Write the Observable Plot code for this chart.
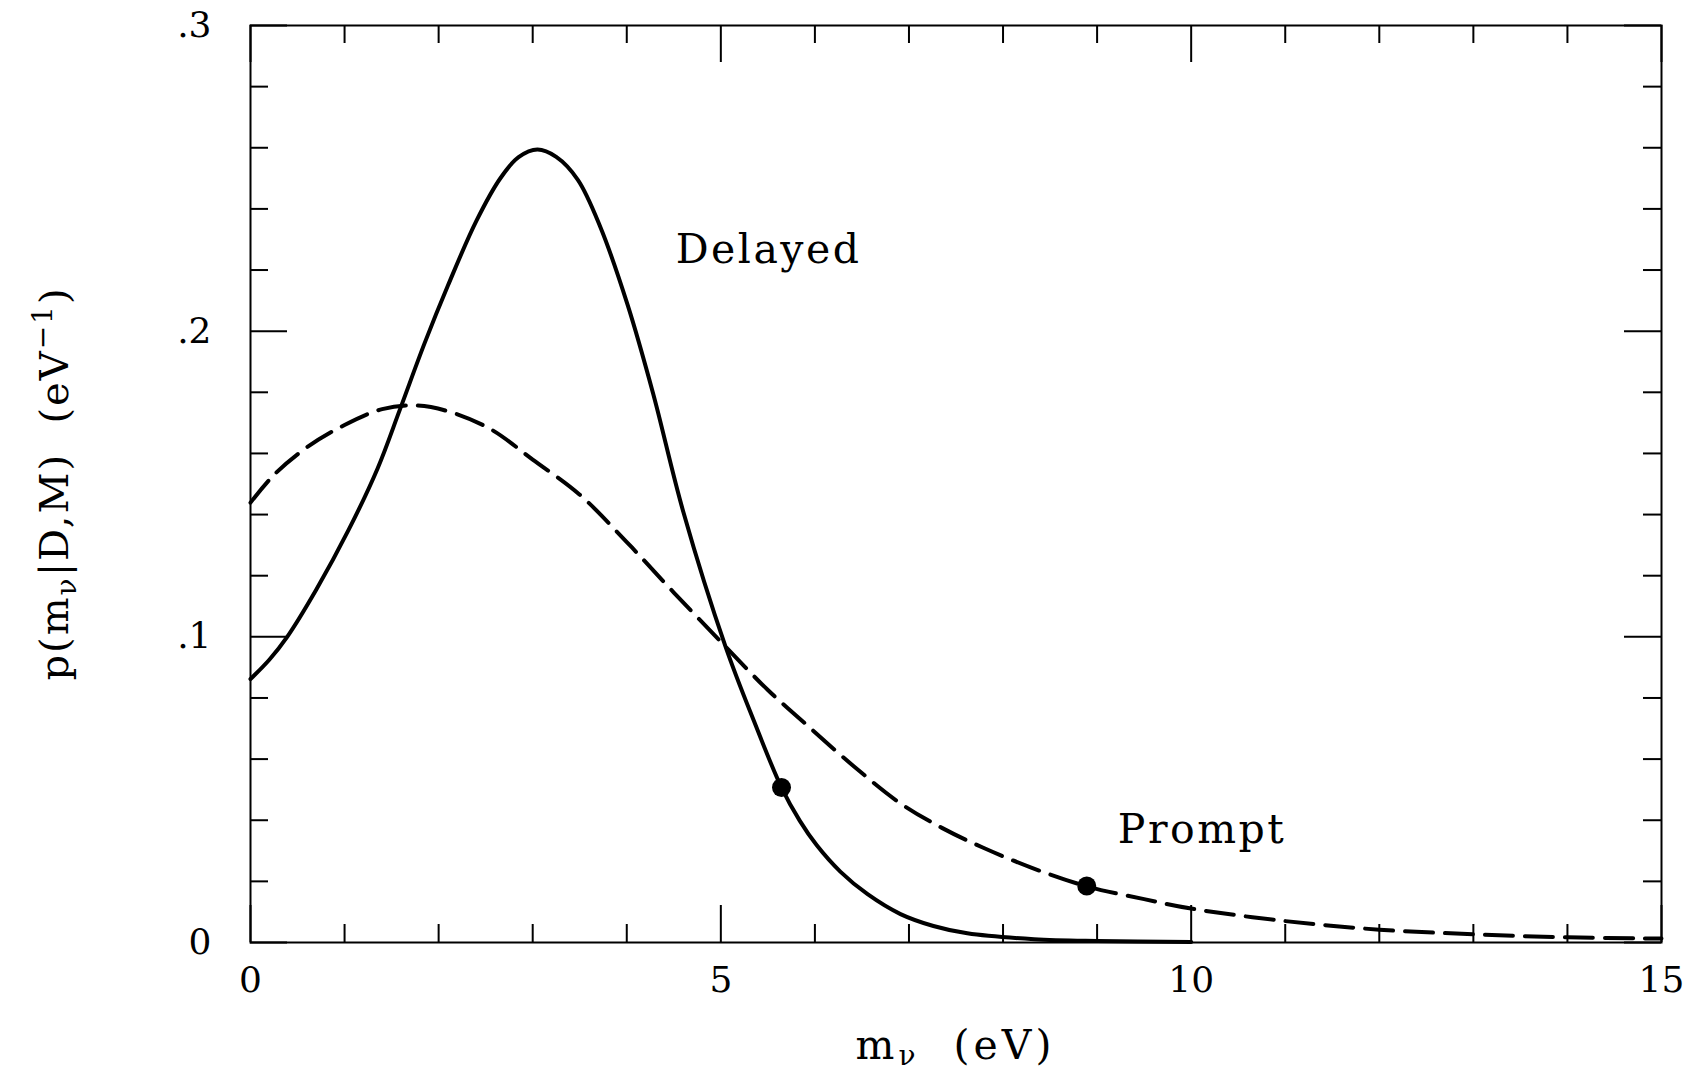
<!DOCTYPE html>
<html>
<head>
<meta charset="utf-8">
<script src="https://cdn.jsdelivr.net/npm/d3@7"></script>
<script src="https://cdn.jsdelivr.net/npm/@observablehq/plot@0.6"></script>
<style>
  body { margin: 0; background: #fff; }
  g[aria-label="text"] text { letter-spacing: 2.5px; }
</style>
</head>
<body>
<div id="chart"></div>
<script>
// ---- data ----
const delayedX = [0, 0.2, 0.39, 0.7, 1.04, 1.35, 1.59, 1.85, 2.1, 2.4, 2.66, 2.85, 3.05, 3.25, 3.48, 3.72, 4.01, 4.28, 4.6, 5.05, 5.35, 5.645, 5.84, 6.02, 6.27, 6.56, 6.91, 7.26, 7.62, 8.33, 9.0, 10.0];
const delayedY = [0.0862, 0.0925, 0.100, 0.1155, 0.1348, 0.155, 0.1745, 0.196, 0.215, 0.236, 0.2502, 0.2569, 0.2594, 0.2570, 0.2495, 0.2340, 0.2085, 0.1796, 0.141, 0.0968, 0.0726, 0.0507, 0.0398, 0.0318, 0.0232, 0.0158, 0.0093, 0.0054, 0.0030, 0.0011, 0.0005, 0.0002];

const promptX = [0, 0.25, 0.6, 1.0, 1.4, 1.75, 2.1, 2.55, 3.0, 3.5, 4.0, 4.5, 5.05, 5.5, 5.92, 6.4, 6.91, 7.35, 7.79, 8.3, 8.9, 9.5, 10.0, 11.0, 12.0, 13.0, 14.0, 15.0];
const promptY = [0.1439, 0.153, 0.162, 0.1693, 0.1745, 0.1757, 0.1738, 0.168, 0.158, 0.1465, 0.131, 0.1145, 0.0968, 0.0826, 0.071, 0.058, 0.0455, 0.0375, 0.031, 0.0245, 0.0183, 0.0142, 0.0111, 0.0070, 0.0042, 0.0027, 0.0017, 0.0013];

const markerX = [5.645, 8.89];
const markerY = [0.0507, 0.0185];

const annotationText = ["Delayed", "Prompt"];
const annotationX = [4.52, 9.22];
const annotationY = [0.2224, 0.0324];

const xTickLabels = [0, 5, 10, 15];
const xMinorTicks = [1, 2, 3, 4, 6, 7, 8, 9, 11, 12, 13, 14];
const yTickLabels = [0, 0.1, 0.2, 0.3];
const yTickText = ["0", ".1", ".2", ".3"];
const yMinorTicks = [0.02, 0.04, 0.06, 0.08, 0.12, 0.14, 0.16, 0.18, 0.22, 0.24, 0.26, 0.28];

// ---- layout ----
const W = 1702, H = 1076;
const mL = 250, mR = 41, mT = 25, mB = 134;
const innerW = W - mL - mR, innerH = H - mT - mB;
const majorLen = 37, minorLen = 18;
const font = "'DejaVu Serif', serif";

const delayed = delayedX.map((x, i) => ({x, y: delayedY[i]}));
const prompt = promptX.map((x, i) => ({x, y: promptY[i]}));
const markers = markerX.map((x, i) => ({x, y: markerY[i]}));
const annotations = annotationText.map((t, i) => ({t, x: annotationX[i], y: annotationY[i]}));

const id = d => d;
const tick = {stroke: "#000", strokeWidth: 2};

const plot = Plot.plot({
  width: W, height: H,
  marginLeft: mL, marginRight: mR, marginTop: mT, marginBottom: mB,
  style: {fontFamily: font, fontSize: "36px", color: "#000", background: "#fff"},
  x: {domain: [0, 15]},
  y: {domain: [0, 0.3]},
  marks: [
    // ticks on all four sides, pointing inward
    Plot.ruleX(xMinorTicks, {x: id, insetTop: innerH - minorLen, ...tick}),
    Plot.ruleX(xMinorTicks, {x: id, insetBottom: innerH - minorLen, ...tick}),
    Plot.ruleX(xTickLabels, {x: id, insetTop: innerH - majorLen, ...tick}),
    Plot.ruleX(xTickLabels, {x: id, insetBottom: innerH - majorLen, ...tick}),
    Plot.ruleY(yMinorTicks, {y: id, insetRight: innerW - minorLen, ...tick}),
    Plot.ruleY(yMinorTicks, {y: id, insetLeft: innerW - minorLen, ...tick}),
    Plot.ruleY(yTickLabels, {y: id, insetRight: innerW - majorLen, ...tick}),
    Plot.ruleY(yTickLabels, {y: id, insetLeft: innerW - majorLen, ...tick}),
    Plot.frame({stroke: "#000", strokeWidth: 2}),
    Plot.axisX({ticks: xTickLabels, tickSize: 0, tickPadding: 24, fontSize: 36, label: null, tickFormat: d => String(d)}),
    Plot.axisY({ticks: yTickLabels, tickSize: 0, tickPadding: 39, fontSize: 36, label: null,
      tickFormat: d => yTickText[yTickLabels.indexOf(d)]}),
    Plot.line(prompt, {x: "x", y: "y", curve: "catmull-rom", stroke: "#000", strokeWidth: 4, strokeDasharray: "28,12"}),
    Plot.line(delayed, {x: "x", y: "y", curve: "catmull-rom", stroke: "#000", strokeWidth: 4}),
    Plot.dot(markers, {x: "x", y: "y", r: 9.5, fill: "#000"}),
    Plot.text(annotations, {x: "x", y: "y", text: "t", textAnchor: "start", lineAnchor: "bottom",
      fontSize: 41, fill: "#000"})
  ]
});

// ---- axis titles with sub/superscripts ----
const svg = d3.select(plot);
const xr = plot.scale("x").range, yr = plot.scale("y").range;

const xt = svg.append("text")
  .attr("x", (xr[0] + xr[1]) / 2).attr("y", H - 17)
  .attr("text-anchor", "middle").attr("font-family", font).attr("font-size", 41)
  .attr("fill", "#000").style("letter-spacing", "4px").style("white-space", "pre");
xt.append("tspan").text("m");
xt.append("tspan").attr("dy", 6).attr("font-size", 28).text("ν");
xt.append("tspan").attr("dy", -6).text("  (eV)");

const yt = svg.append("text")
  .attr("transform", `translate(68,${(yr[0] + yr[1]) / 2}) rotate(-90)`)
  .attr("text-anchor", "middle").attr("font-family", font).attr("font-size", 40)
  .attr("fill", "#000").style("letter-spacing", "2px").style("white-space", "pre");
yt.append("tspan").text("p(m");
yt.append("tspan").attr("dy", 8).attr("font-size", 28).text("ν");
yt.append("tspan").attr("dy", -8).text("|D,M)  (eV");
yt.append("tspan").attr("dy", -16).attr("font-size", 28).text("−1");
yt.append("tspan").attr("dy", 16).text(")");

document.getElementById("chart").appendChild(plot);
</script>
</body>
</html>
